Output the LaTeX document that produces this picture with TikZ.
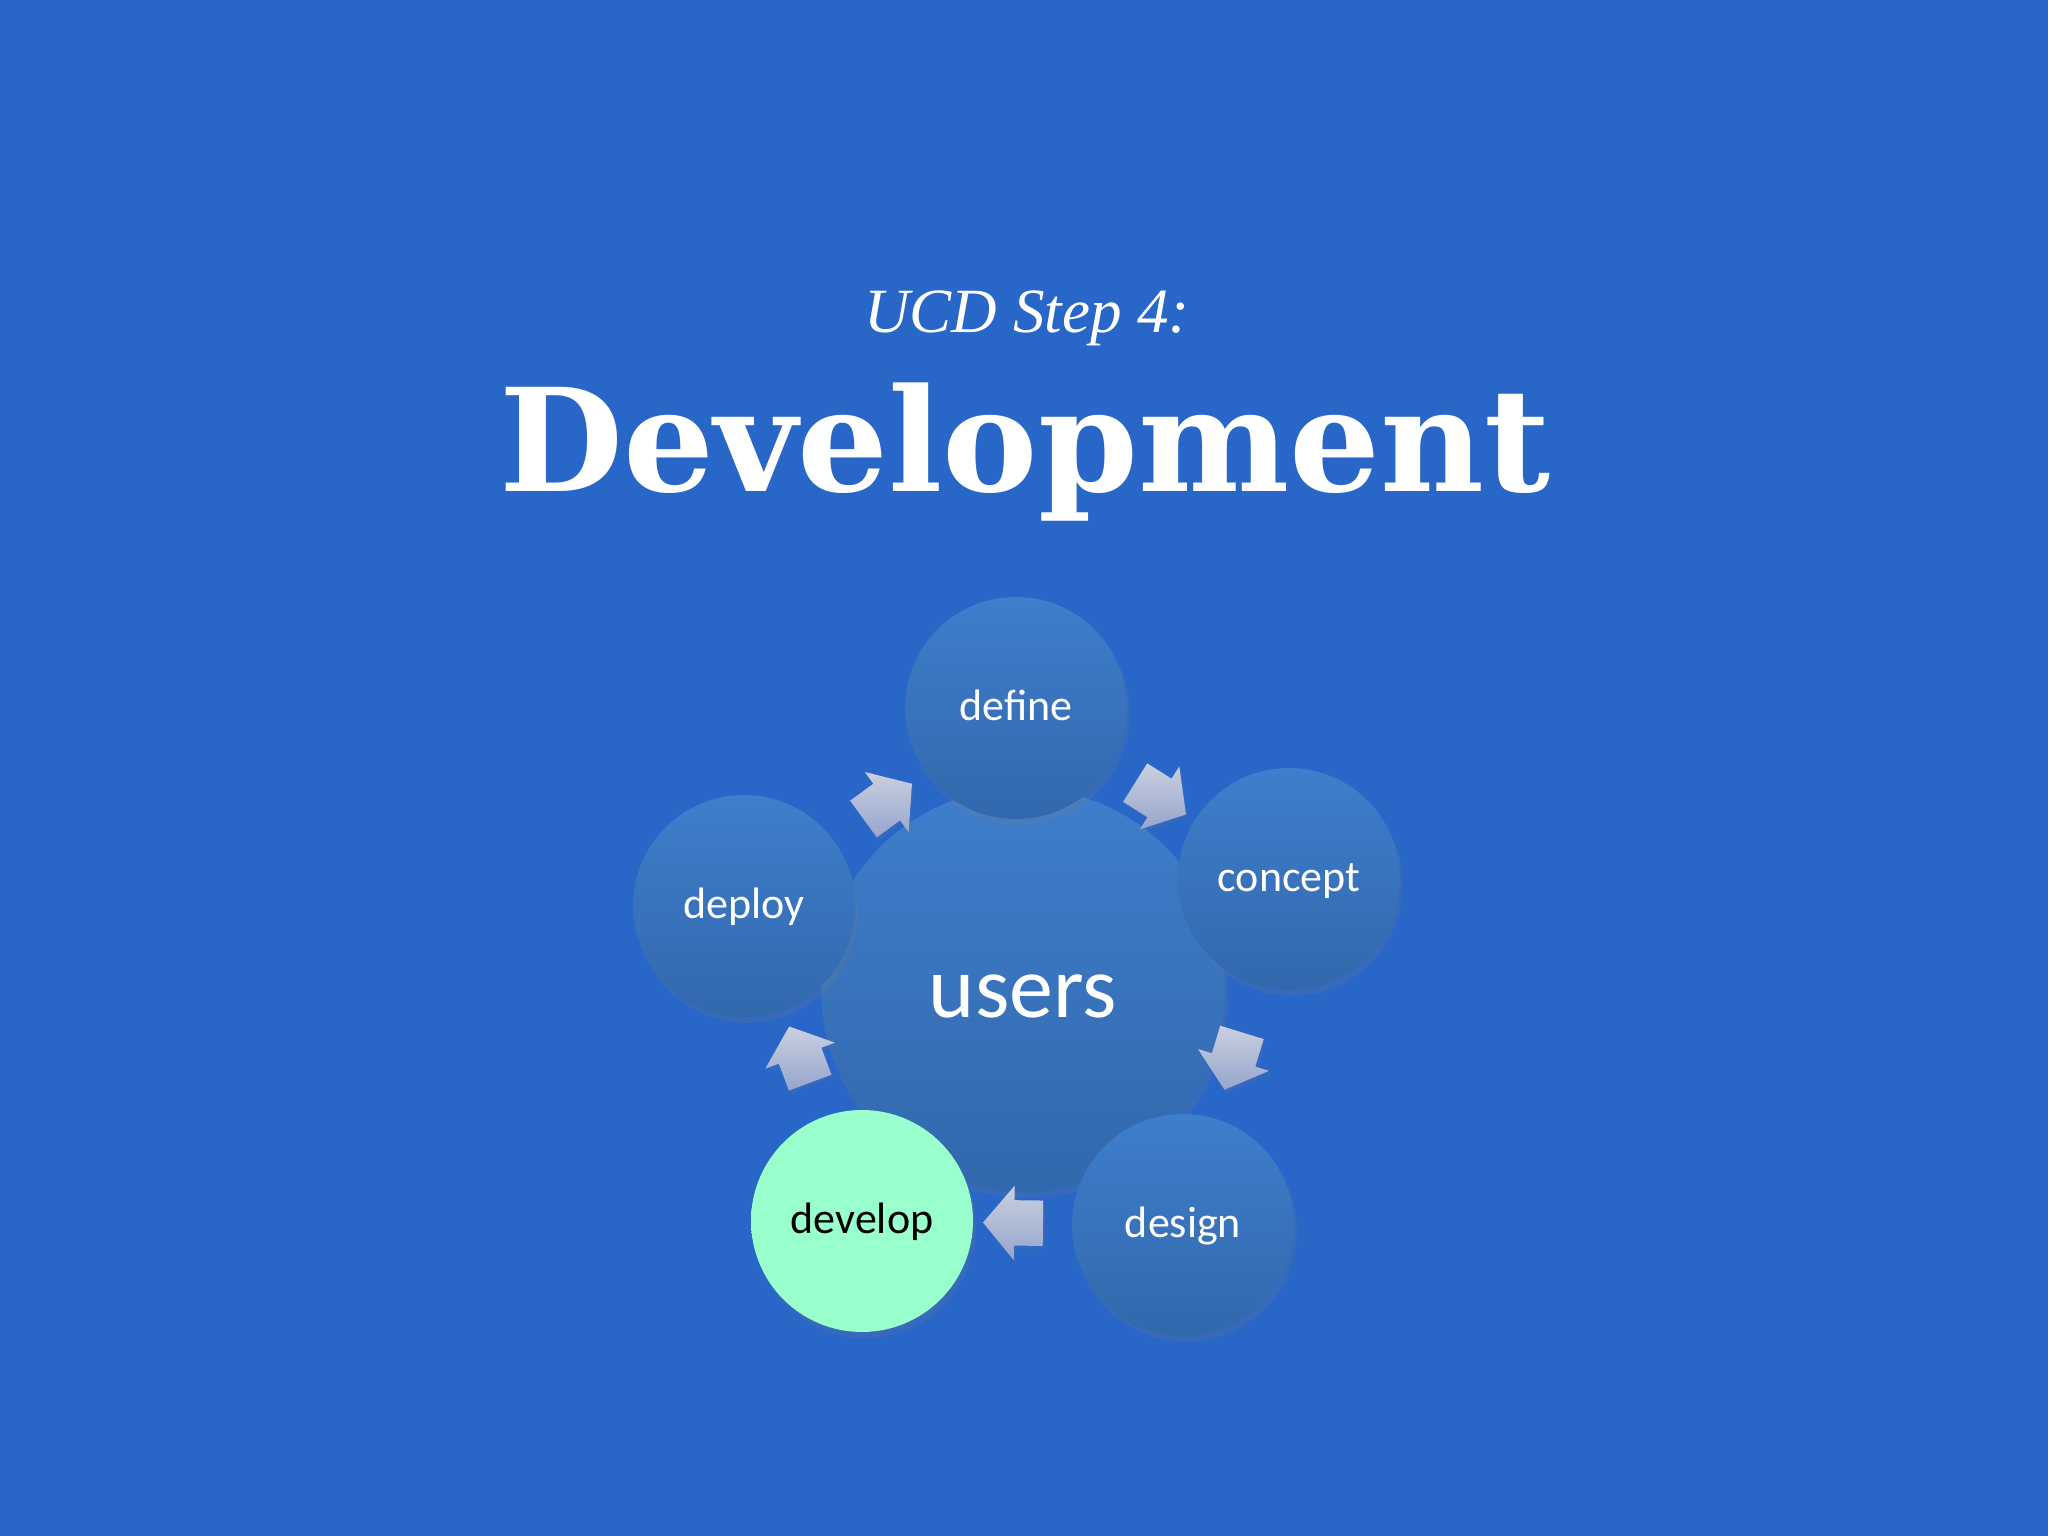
\documentclass[tikz,border=0pt]{standalone}
\usepackage{fontspec}
\setmainfont{Carlito}
\newfontfamily\titlefont{DejaVu Serif}
\newfontfamily\stepfont{Liberation Serif}
\usetikzlibrary{shapes.arrows,shadows}

\definecolor{slidebg}{RGB}{40,102,200}
\definecolor{disctop}{RGB}{62,126,204}
\definecolor{discbot}{RGB}{50,104,172}
\definecolor{mint}{RGB}{153,255,204}
\definecolor{arrowlight}{RGB}{202,208,224}
\definecolor{arrowdark}{RGB}{150,165,205}

\tikzset{
	disc/.style={circle, minimum size=222pt, inner sep=0pt,
		top color=disctop, bottom color=discbot, text=white,
		font=\fontsize{44}{50}\selectfont, text height=26pt, text depth=0pt,
		drop shadow={opacity=0.18, shadow xshift=3pt, shadow yshift=-6pt}},
	hub/.style={disc, minimum size=404pt, font=\fontsize{88}{100}\selectfont, text height=56pt},
	current/.style={top color=mint, bottom color=mint, text=black},
	flow/.style={single arrow, draw=none, inner xsep=0pt, inner ysep=22.5pt,
		minimum height=60pt,
		single arrow head extend=14.5pt, single arrow tip angle=100,
		top color=arrowlight, bottom color=arrowdark,
		drop shadow={opacity=0.15, shadow xshift=2pt, shadow yshift=-3pt},
		sloped, allow upside down}
}

\begin{document}
\begin{tikzpicture}[x=1pt, y=1pt]
	\fill[slidebg] (0,0) rectangle (2048,1536);
	\useasboundingbox (0,0) rectangle (2048,1536);
	% heading
	\node[text=white, anchor=base, font=\stepfont\itshape\fontsize{63}{70}\selectfont] (step) at (1027,1203) {UCD Step 4:};
	\node[text=white, anchor=base, font=\titlefont\bfseries\fontsize{143}{156}\selectfont] (title) at (1025,1044) {Development};
	% cycle
	\node[hub] (users) at (1023,546) {users};
	\node[disc] (define) at (1016,828) {define};
	\node[disc] (concept) at (1289,657) {concept};
	\node[disc] (design) at (1183,311) {design};
	\node[disc, current] (develop) at (862,315) {develop};
	\node[disc] (deploy) at (744,630) {deploy};
	\foreach \a/\b in {define/concept, concept/design, design/develop, develop/deploy, deploy/define}
		\path (\a) -- node[flow] {} (\b);
\end{tikzpicture}
\end{document}
